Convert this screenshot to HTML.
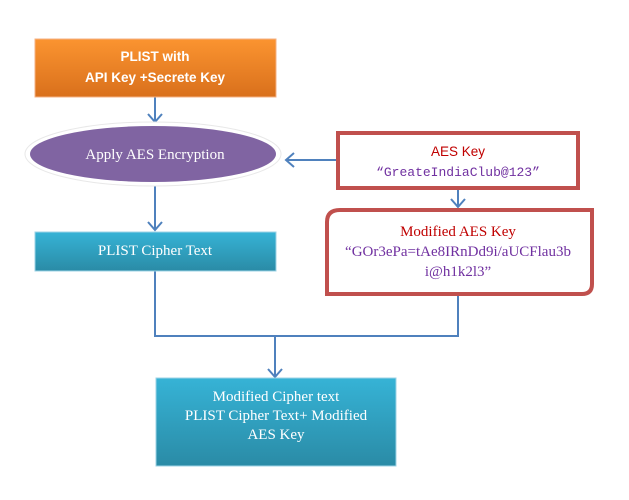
<!DOCTYPE html>
<html><head><meta charset="utf-8"><style>
html,body{margin:0;padding:0;background:#fff;}
svg{display:block;}
.s{font-family:"Liberation Serif",serif;}
.b{font-family:"Liberation Sans",sans-serif;font-weight:bold;}
</style></head><body>
<svg width="629" height="500" viewBox="0 0 629 500" xmlns="http://www.w3.org/2000/svg">
<defs>
<linearGradient id="og" x1="0" y1="0" x2="0" y2="1"><stop offset="0" stop-color="#fb9430"/><stop offset="1" stop-color="#d9701c"/></linearGradient>
<linearGradient id="cg" x1="0" y1="0" x2="0" y2="1"><stop offset="0" stop-color="#36b3d6"/><stop offset="1" stop-color="#2a8ba6"/></linearGradient>
</defs>
<g stroke="#4f81bd" stroke-width="2" fill="none">
<line x1="155" y1="97" x2="155" y2="122"/><polyline points="148,114 155,122 162,114"/>
<line x1="155" y1="186" x2="155" y2="230"/><polyline points="148,222 155,230 162,222"/>
<line x1="337" y1="160" x2="286" y2="160"/><polyline points="294,153 286,160 294,167"/>
<line x1="458" y1="189" x2="458" y2="207"/><polyline points="451,199 458,207 465,199"/>
<polyline points="155,271 155,336 458,336 458,296"/>
<line x1="275" y1="336" x2="275" y2="377"/><polyline points="268,369 275,377 282,369"/>
</g>
<rect x="35" y="39" width="241" height="58" fill="url(#og)" stroke="#f4b183" stroke-width="1"/>
<text class="b" x="155" y="61" font-size="13.5" fill="#fff" text-anchor="middle">PLIST with</text>
<text class="b" x="155" y="82" font-size="13.5" fill="#fff" text-anchor="middle">API Key +Secrete Key</text>
<ellipse cx="153" cy="154" rx="128" ry="32" fill="#fff" stroke="#e8e8e8"/>
<ellipse cx="153" cy="154" rx="123" ry="28" fill="#8064a2"/>
<text class="s" x="155" y="159" font-size="15" fill="#fff" text-anchor="middle">Apply AES Encryption</text>
<rect x="35" y="232" width="241" height="39" fill="url(#cg)" stroke="#9dd3e6"/>
<text class="s" x="155" y="255" font-size="15" fill="#fff" text-anchor="middle">PLIST Cipher Text</text>
<rect x="338" y="133" width="240" height="55" fill="#fff" stroke="#c0504d" stroke-width="4"/>
<text x="458" y="156" font-family="Liberation Sans,sans-serif" font-size="13.5" fill="#c00000" text-anchor="middle">AES Key</text>
<text x="458" y="176" font-family="Liberation Mono,monospace" font-size="13" fill="#7030a0" text-anchor="middle">“GreateIndiaClub@123”</text>
<path d="M340,210 H592 V284 Q592,294 582,294 H327 V222 Q327,210 340,210 Z" fill="#fff" stroke="#c0504d" stroke-width="4"/>
<text class="s" x="458" y="236" font-size="15" fill="#c00000" text-anchor="middle">Modified AES Key</text>
<text class="s" x="458" y="256" font-size="15" fill="#7030a0" text-anchor="middle">“GOr3ePa=tAe8IRnDd9i/aUCFlau3b</text>
<text class="s" x="458" y="276" font-size="15" fill="#7030a0" text-anchor="middle">i@h1k2l3”</text>
<rect x="156" y="378" width="240" height="88" fill="url(#cg)" stroke="#9dd3e6"/>
<text class="s" x="276" y="401" font-size="15" fill="#fff" text-anchor="middle">Modified Cipher text</text>
<text class="s" x="276" y="420" font-size="15" fill="#fff" text-anchor="middle">PLIST Cipher Text+ Modified</text>
<text class="s" x="276" y="439" font-size="15" fill="#fff" text-anchor="middle">AES Key</text>
</svg>
</body></html>
